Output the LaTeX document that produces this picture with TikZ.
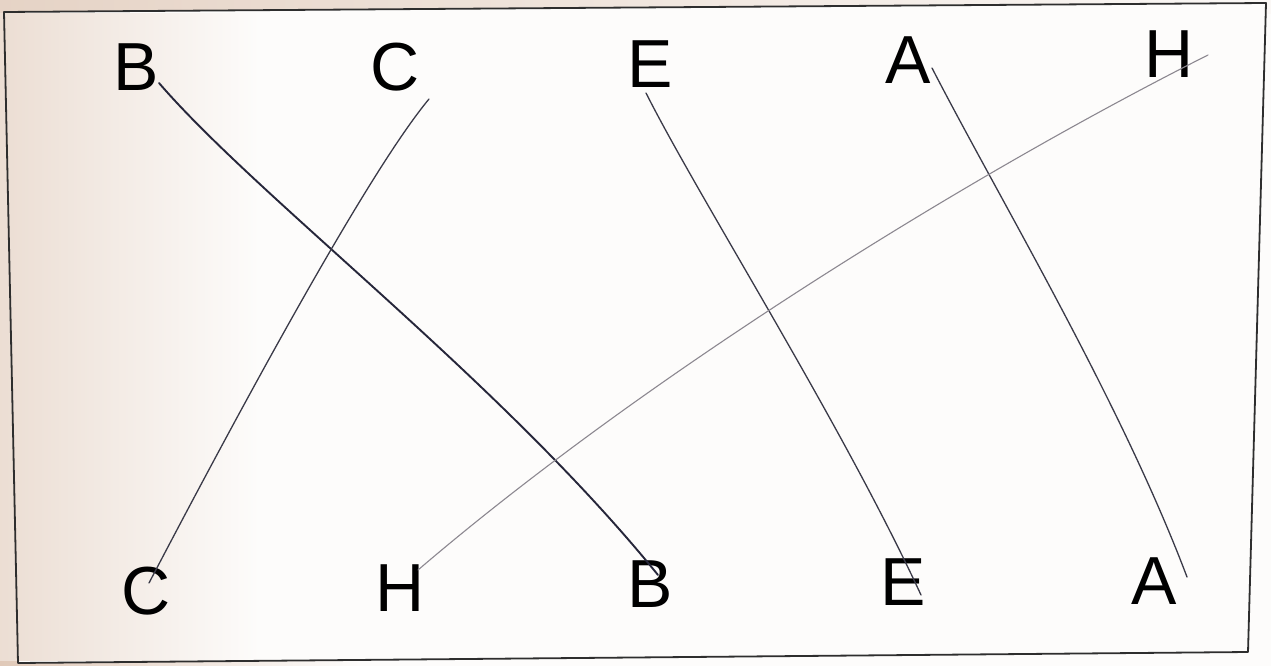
\documentclass[tikz,border=0pt]{standalone}
\usepackage{fontspec}
\setmainfont{Liberation Sans}
\usetikzlibrary{calc}
\definecolor{paper}{HTML}{FDFCFB}
\definecolor{beige}{HTML}{D6B8A2}
\definecolor{ink}{HTML}{26263A}
\definecolor{pen}{HTML}{3A3A48}
\definecolor{pencil}{HTML}{8C8890}
\definecolor{framec}{HTML}{2E2E2E}
\tikzset{
  letter/.style={inner sep=0pt, font=\fontsize{68}{68}\selectfont, text=black},
  penline/.style={draw=pen, line width=1.3pt, line cap=round},
  boldline/.style={draw=ink, line width=1.9pt, line cap=round},
  pencilline/.style={draw=pencil, line width=1.1pt, line cap=round},
  frameline/.style={draw=framec, line width=1.8pt, line join=round}
}
\begin{document}
\begin{tikzpicture}[x=1pt,y=-1pt]
\useasboundingbox (0,0) rectangle (1271,666);
\fill[paper] (0,0) rectangle (1271,666);
\shade[left color=beige, right color=paper] (-120,0) rectangle (360,666);
\shade[left color=beige!60!paper, right color=paper] (0,0) rectangle (1400,14);
\fill[paper] (4,12) -- (1266,3) -- (1248,652) -- (18,663) -- cycle;
\shade[left color=beige!55!paper, right color=paper] (-60,14) rectangle (260,660);
\draw[frameline] (4,12) -- (1266,3) -- (1248,652) -- (18,663) -- cycle;
% top row
\node[letter] (Bt) at (136,67) {B};
\node[letter] (Ct) at (395,67) {C};
\node[letter] (Et) at (650,64) {E};
\node[letter] (At) at (908,60) {A};
\node[letter] (Ht) at (1169,54) {H};
% bottom row
\node[letter] (Cb) at (146,591) {C};
\node[letter] (Hb) at (400,588) {H};
\node[letter] (Bb) at (650,584) {B};
\node[letter] (Eb) at (903,582) {E};
\node[letter] (Ab) at (1154,581) {A};
% line ends
\coordinate (b1) at ($(Bt)+(23,16)$);
\coordinate (b2) at ($(Bb)+(8,-9)$);
\coordinate (c1) at ($(Ct)+(34,32)$);
\coordinate (c2) at ($(Cb)+(3,-8)$);
\coordinate (e1) at ($(Et)+(-4,29)$);
\coordinate (e2) at ($(Eb)+(18,13)$);
\coordinate (a1) at ($(At)+(24,8)$);
\coordinate (a2) at ($(Ab)+(33,-4)$);
\coordinate (h1) at ($(Ht)+(39,1)$);
\coordinate (h2) at ($(Hb)+(18,-18)$);
% connectors
\draw[boldline] (b1) .. controls (260,200) and (500,380) .. (b2);
\draw[penline] (c1) .. controls (370,170) and (250,390) .. (c2);
\draw[penline] (e1) .. controls (700,200) and (840,420) .. (e2);
\draw[penline] (a1) .. controls (1000,200) and (1120,400) .. (a2);
\draw[pencilline] (h1) .. controls (960,180) and (640,380) .. (h2);
\end{tikzpicture}
\end{document}
